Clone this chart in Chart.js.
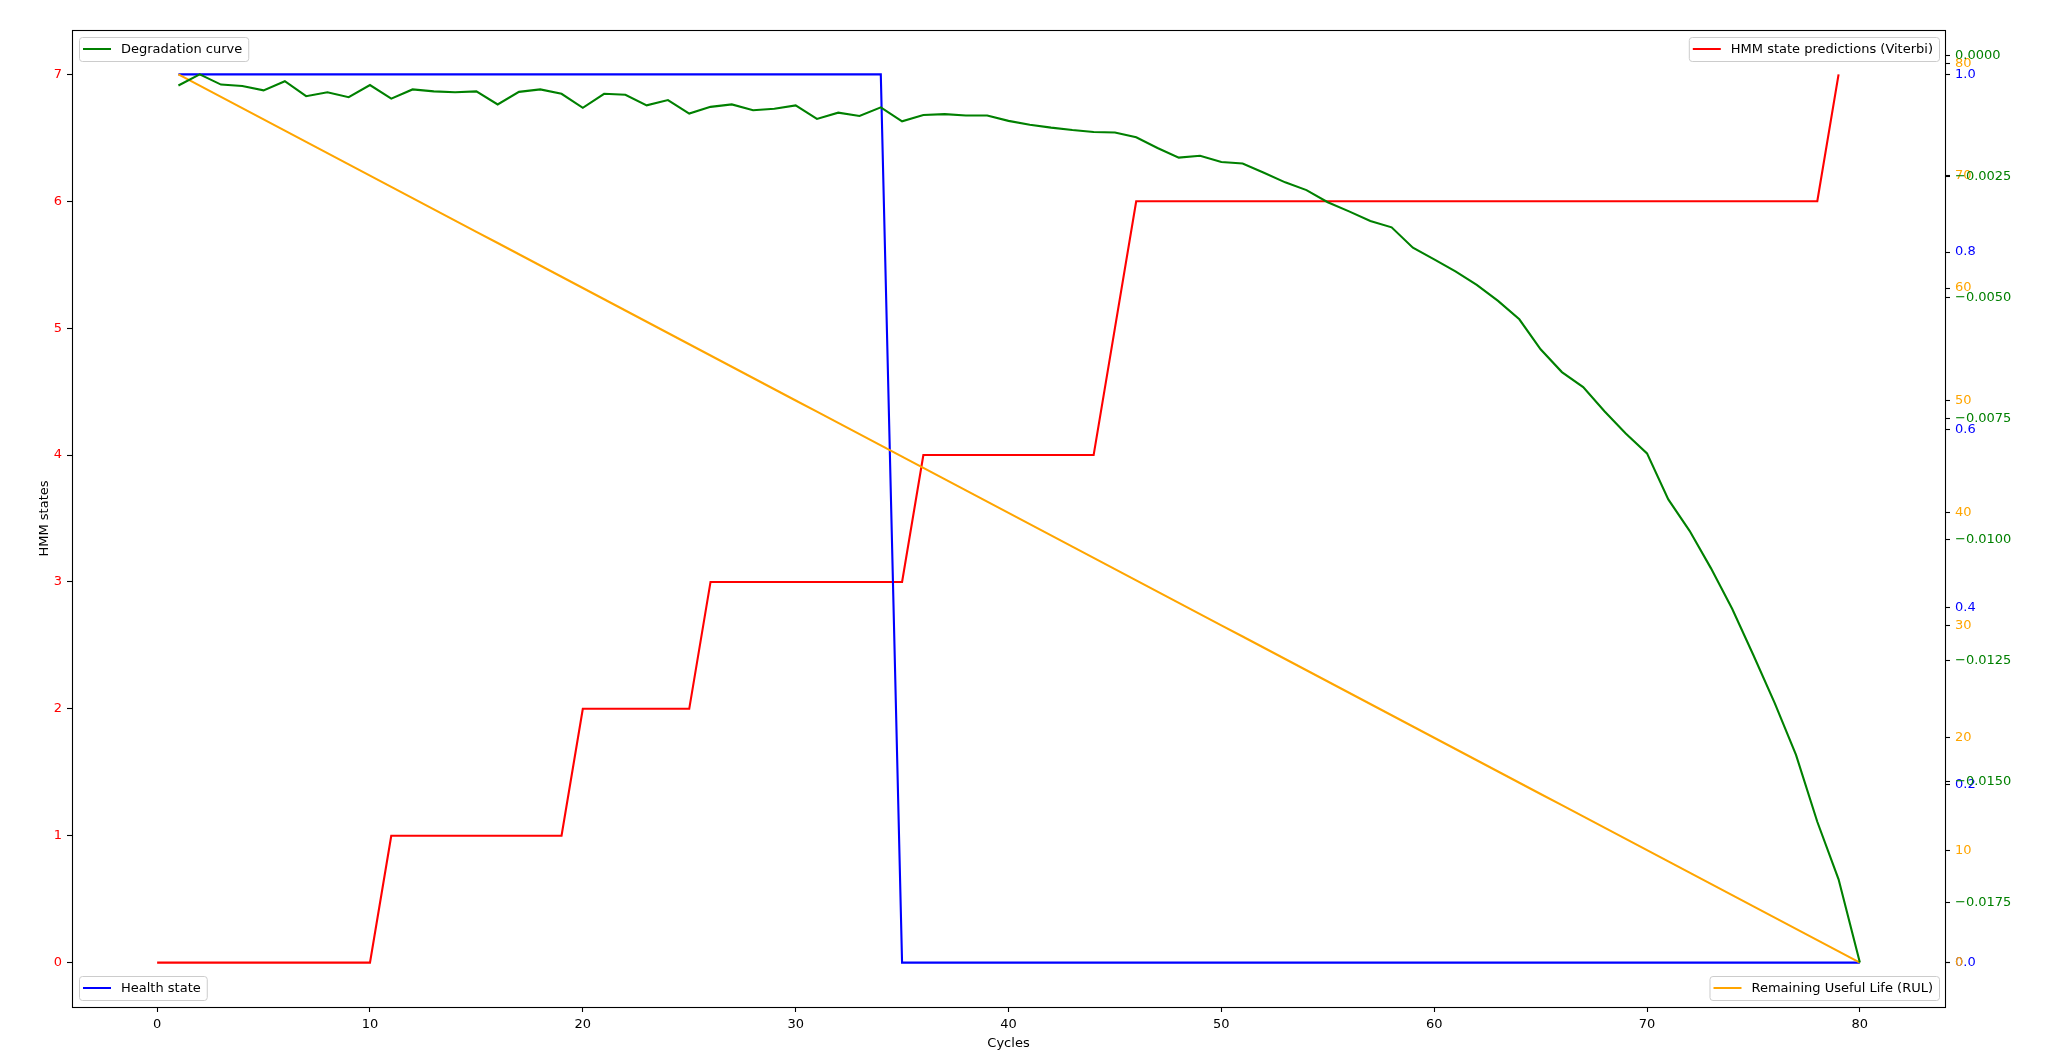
<!DOCTYPE html>
<html>
<head>
<meta charset="utf-8">
<script src="https://cdn.jsdelivr.net/npm/chart.js@4.4.1/dist/chart.umd.min.js"></script>
<style>
  html, body { margin: 0; padding: 0; background: #fff; }
  canvas { display: block; }
</style>
</head>
<body>
<canvas id="chart" width="2048" height="1063"></canvas>
<script>
// cycles 0..80
const cycles = [0, 1, 2, 3, 4, 5, 6, 7, 8, 9, 10, 11, 12, 13, 14, 15, 16, 17, 18, 19, 20,
    21, 22, 23, 24, 25, 26, 27, 28, 29, 30, 31, 32, 33, 34, 35, 36, 37, 38, 39, 40,
    41, 42, 43, 44, 45, 46, 47, 48, 49, 50, 51, 52, 53, 54, 55, 56, 57, 58, 59, 60,
    61, 62, 63, 64, 65, 66, 67, 68, 69, 70, 71, 72, 73, 74, 75, 76, 77, 78, 79, 80];

// HMM state (Viterbi) for cycles 0..79
const hmmStates = [0, 0, 0, 0, 0, 0, 0, 0, 0, 0, 0,
    1, 1, 1, 1, 1, 1, 1, 1, 1,
    2, 2, 2, 2, 2, 2,
    3, 3, 3, 3, 3, 3, 3, 3, 3, 3,
    4, 4, 4, 4, 4, 4, 4, 4, 4,
    5,
    6, 6, 6, 6, 6, 6, 6, 6, 6, 6, 6, 6, 6, 6, 6, 6, 6, 6, 6, 6, 6, 6, 6, 6, 6, 6, 6, 6, 6, 6, 6, 6, 6,
    7];

// health state for cycles 1..80
const healthState = [1, 1, 1, 1, 1, 1, 1, 1, 1, 1, 1, 1, 1, 1, 1, 1, 1, 1, 1, 1,
    1, 1, 1, 1, 1, 1, 1, 1, 1, 1, 1, 1, 1, 1,
    0, 0, 0, 0, 0, 0, 0, 0, 0, 0, 0, 0, 0, 0, 0, 0, 0, 0, 0, 0, 0, 0, 0, 0, 0, 0,
    0, 0, 0, 0, 0, 0, 0, 0, 0, 0, 0, 0, 0, 0, 0, 0, 0, 0, 0, 0, 0, 0, 0, 0, 0, 0];

// RUL for cycles 1..80
const rul = [79, 78, 77, 76, 75, 74, 73, 72, 71, 70, 69, 68, 67, 66, 65, 64, 63, 62, 61, 60,
    59, 58, 57, 56, 55, 54, 53, 52, 51, 50, 49, 48, 47, 46, 45, 44, 43, 42, 41, 40,
    39, 38, 37, 36, 35, 34, 33, 32, 31, 30, 29, 28, 27, 26, 25, 24, 23, 22, 21, 20,
    19, 18, 17, 16, 15, 14, 13, 12, 11, 10, 9, 8, 7, 6, 5, 4, 3, 2, 1, 0];

// degradation curve for cycles 1..80
const degradation = [-0.00062, -0.00039, -0.00060, -0.00063, -0.00072, -0.00053, -0.00084, -0.00076, -0.00086, -0.00061,
    -0.00089, -0.00070, -0.00074, -0.00076, -0.00074, -0.00101, -0.00075, -0.00070, -0.00079, -0.00108,
    -0.00079, -0.00081, -0.00103, -0.00092, -0.00120, -0.00106, -0.00101, -0.00113, -0.00110, -0.00103,
    -0.00131, -0.00118, -0.00125, -0.00107, -0.00136, -0.00123, -0.00121, -0.00124, -0.00124, -0.00135,
    -0.00143, -0.00149, -0.00154, -0.00158, -0.00159, -0.00169, -0.00191, -0.00211, -0.00207, -0.00220,
    -0.00223, -0.00242, -0.00262, -0.00278, -0.00303, -0.00322, -0.00342, -0.00355, -0.00397, -0.00421,
    -0.00446, -0.00474, -0.00507, -0.00545, -0.00607, -0.00654, -0.00685, -0.00735, -0.00781, -0.00822,
    -0.00917, -0.00982, -0.01059, -0.01143, -0.01239, -0.01338, -0.01445, -0.01583, -0.01702, -0.01874];

// tick labels
const xTicks = [0, 10, 20, 30, 40, 50, 60, 70, 80];
const hmmTicks = [0, 1, 2, 3, 4, 5, 6, 7];
const healthTicks = [0, 0.2, 0.4, 0.6, 0.8, 1.0];
const rulTicks = [0, 10, 20, 30, 40, 50, 60, 70, 80];
const degTicks = [0, -0.0025, -0.005, -0.0075, -0.01, -0.0125, -0.015, -0.0175];

const FONT = "'DejaVu Sans', sans-serif";
const FS = 13;
const RIGHT_W = 103;

function pts(xs, ys) {
    return ys.map((v, i) => ({ x: xs[i], y: v }));
}

// matplotlib style 5% margins
function limits(arr) {
    const lo = Math.min(...arr), hi = Math.max(...arr);
    const m = (hi - lo) * 0.05;
    return { min: lo - m, max: hi + m };
}

function fixTicks(list) {
    return (scale) => { scale.ticks = list.map(v => ({ value: v })); };
}

const xLim = limits(cycles);
const hmmLim = limits(hmmStates);
const healthLim = limits(healthState);
const rulLim = limits(rul);
const degLim = limits(degradation);

const tickGrid = { display: true, drawOnChartArea: false, drawTicks: true, tickLength: 5, tickColor: "#000", tickWidth: 1.1 };

// put the three right axes on top of each other (twinx style)
const stackRight = {
    id: "stackRight",
    afterLayout(chart) {
        const a = chart.chartArea;
        ["yHealth", "yRul", "yDeg"].forEach(id => {
            const s = chart.scales[id];
            s.left = a.right;
            s.right = a.right + RIGHT_W;
            s.width = RIGHT_W;
        });
    }
};

// legend boxes in the four corners, like four separate matplotlib legends
const cornerLegends = {
    id: "cornerLegends",
    afterDraw(chart) {
        const ctx = chart.ctx;
        const a = chart.chartArea;
        const items = [
            { ds: 3, corner: "tl" },
            { ds: 0, corner: "tr" },
            { ds: 1, corner: "bl" },
            { ds: 2, corner: "br" }
        ];
        ctx.save();
        ctx.font = FS + "px " + FONT;
        items.forEach(it => {
            const ds = chart.data.datasets[it.ds];
            const tw = ctx.measureText(ds.label).width;
            const w = 4 + 28 + 10 + tw + 6;
            const h = 24;
            const x = it.corner[1] === "l" ? a.left + 7 : a.right - 6 - w;
            const y = it.corner[0] === "t" ? a.top + 7 : a.bottom - 7 - h;
            ctx.beginPath();
            ctx.roundRect(x + 0.5, y + 0.5, w, h, 3);
            ctx.fillStyle = "rgba(255,255,255,0.8)";
            ctx.fill();
            ctx.strokeStyle = "#cccccc";
            ctx.lineWidth = 1;
            ctx.stroke();
            ctx.beginPath();
            ctx.moveTo(x + 4, y + h / 2);
            ctx.lineTo(x + 4 + 28, y + h / 2);
            ctx.strokeStyle = ds.borderColor;
            ctx.lineWidth = 2;
            ctx.stroke();
            ctx.fillStyle = "#000";
            ctx.textBaseline = "middle";
            ctx.textAlign = "left";
            ctx.fillText(ds.label, x + 4 + 28 + 10, y + h / 2 + 0.5);
        });
        ctx.restore();
    }
};

// axes frame
const frame = {
    id: "frame",
    afterDatasetsDraw(chart) {
        const ctx = chart.ctx;
        const a = chart.chartArea;
        ctx.save();
        ctx.strokeStyle = "#000";
        ctx.lineWidth = 1.1;
        ctx.strokeRect(Math.round(a.left) + 0.5, Math.round(a.top) + 0.5,
            Math.round(a.right - a.left), Math.round(a.bottom - a.top));
        ctx.restore();
    }
};

const ctx = document.getElementById("chart").getContext("2d");
new Chart(ctx, {
    type: "line",
    data: {
        datasets: [
            {
                label: "HMM state predictions (Viterbi)",
                data: pts(cycles, hmmStates),
                borderColor: "#ff0000",
                yAxisID: "yHmm",
                order: 3
            },
            {
                label: "Health state",
                data: pts(cycles.slice(1), healthState),
                borderColor: "#0000ff",
                yAxisID: "yHealth",
                order: 2
            },
            {
                label: "Remaining Useful Life (RUL)",
                data: pts(cycles.slice(1), rul),
                borderColor: "#ffa500",
                yAxisID: "yRul",
                order: 1
            },
            {
                label: "Degradation curve",
                data: pts(cycles.slice(1), degradation),
                borderColor: "#008000",
                yAxisID: "yDeg",
                order: 0
            }
        ]
    },
    options: {
        responsive: false,
        animation: false,
        devicePixelRatio: 1,
        layout: { padding: { top: 30, right: RIGHT_W, left: 0, bottom: 0 } },
        elements: {
            line: { borderWidth: 2.1, tension: 0, fill: false },
            point: { radius: 0 }
        },
        plugins: {
            legend: { display: false },
            tooltip: { enabled: false }
        },
        scales: {
            x: {
                type: "linear",
                position: "bottom",
                min: xLim.min,
                max: xLim.max,
                afterBuildTicks: fixTicks(xTicks),
                afterFit: (s) => { s.height = 56; },
                grid: tickGrid,
                border: { display: false },
                ticks: { color: "#000", font: { family: FONT, size: FS }, padding: 5, maxRotation: 0 },
                title: { display: true, text: "Cycles", color: "#000", font: { family: FONT, size: FS }, padding: { bottom: 11.5 } }
            },
            yHmm: {
                type: "linear",
                position: "left",
                min: hmmLim.min,
                max: hmmLim.max,
                afterBuildTicks: fixTicks(hmmTicks),
                afterFit: (s) => { s.width = 72; },
                grid: tickGrid,
                border: { display: false },
                ticks: { color: "#ff0000", font: { family: FONT, size: FS }, padding: 5 },
                title: { display: true, text: "HMM states", color: "#000", font: { family: FONT, size: FS }, padding: { top: 36.5 } }
            },
            yHealth: {
                type: "linear",
                position: "right",
                min: healthLim.min,
                max: healthLim.max,
                afterBuildTicks: fixTicks(healthTicks),
                afterFit: (s) => { s.width = 0; },
                grid: tickGrid,
                border: { display: false },
                ticks: { color: "#0000ff", font: { family: FONT, size: FS }, padding: 5, callback: (v) => v.toFixed(1) }
            },
            yRul: {
                type: "linear",
                position: "right",
                min: rulLim.min,
                max: rulLim.max,
                afterBuildTicks: fixTicks(rulTicks),
                afterFit: (s) => { s.width = 0; },
                grid: tickGrid,
                border: { display: false },
                ticks: { color: "#ffa500", font: { family: FONT, size: FS }, padding: 5 }
            },
            yDeg: {
                type: "linear",
                position: "right",
                min: degLim.min,
                max: degLim.max,
                afterBuildTicks: fixTicks(degTicks),
                afterFit: (s) => { s.width = 0; },
                grid: tickGrid,
                border: { display: false },
                ticks: {
                    color: "#008000", font: { family: FONT, size: FS }, padding: 5,
                    callback: (v) => v === 0 ? "0.0000" : "\u2212" + Math.abs(v).toFixed(4)
                }
            }
        }
    },
    plugins: [stackRight, frame, cornerLegends]
});
</script>
</body>
</html>
